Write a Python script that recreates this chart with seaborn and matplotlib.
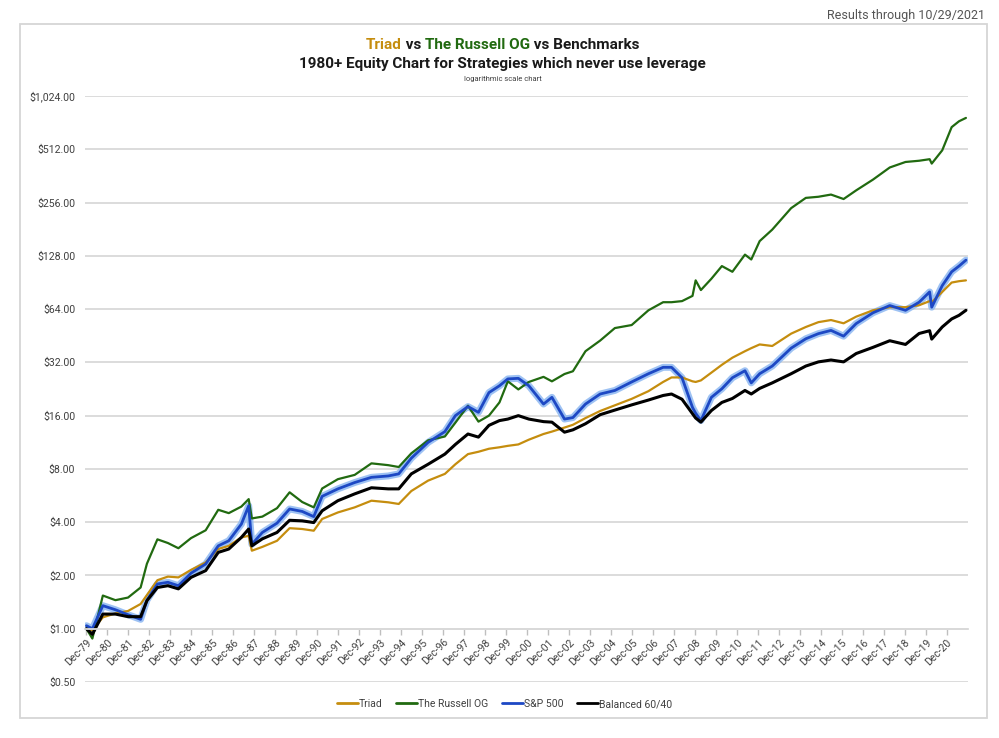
import matplotlib
matplotlib.use("Agg")
import matplotlib.pyplot as plt
import seaborn as sns
import pandas as pd
from matplotlib import font_manager
from matplotlib.offsetbox import TextArea, HPacker, AnnotationBbox
from matplotlib.lines import Line2D
from matplotlib.patches import Rectangle

# ---------------- data ----------------
years = [1979.92, 1980.2, 1980.7, 1981.3, 1981.9, 1982.5, 1982.8, 1983.3, 1983.8, 1984.3,
         1984.9, 1985.6, 1986.2, 1986.7, 1987.3, 1987.65, 1987.8, 1988.3, 1989.0, 1989.6,
         1990.2, 1990.75, 1991.15, 1991.9, 1992.7, 1993.5, 1994.3, 1994.8, 1995.4, 1996.2,
         1997.0, 1997.5, 1998.1, 1998.6, 1999.1, 1999.6, 2000.0, 2000.5, 2001.0, 2001.7,
         2002.1, 2002.7, 2003.1, 2003.7, 2004.4, 2005.1, 2005.9, 2006.7, 2007.4, 2007.8,
         2008.3, 2008.8, 2008.95, 2009.2, 2009.7, 2010.2, 2010.7, 2011.3, 2011.6, 2012.0,
         2012.6, 2013.5, 2014.2, 2014.8, 2015.4, 2016.0, 2016.6, 2017.4, 2018.2, 2018.95,
         2019.6, 2020.1, 2020.2, 2020.7, 2021.15, 2021.5, 2021.83]

triad = [1.0, 0.98, 1.16, 1.22, 1.26, 1.38, 1.55, 1.88, 1.97, 1.95,
         2.15, 2.37, 2.82, 2.94, 3.28, 3.35, 2.76, 2.9, 3.14, 3.7,
         3.66, 3.58, 4.17, 4.54, 4.85, 5.29, 5.18, 5.07, 6.0, 6.87,
         7.5, 8.5, 9.7, 10.0, 10.4, 10.6, 10.8, 11.0, 11.7, 12.6,
         13.0, 13.7, 14.2, 15.5, 17.0, 18.3, 19.9, 22.0, 24.8, 26.3,
         26.3, 25.0, 24.8, 25.3, 28.0, 31.0, 34.0, 37.0, 38.5, 40.4,
         39.6, 46.5, 50.7, 54.0, 55.5, 53.2, 58.0, 63.0, 65.6, 65.6,
         67.3, 71.0, 70.0, 80.0, 90.4, 92.0, 93.0]

russell_og = [1.0, 0.88, 1.54, 1.45, 1.5, 1.71, 2.33, 3.2, 3.05, 2.85,
              3.25, 3.6, 4.7, 4.5, 4.9, 5.4, 4.2, 4.3, 4.8, 5.9,
              5.2, 4.85, 6.2, 7.0, 7.4, 8.6, 8.4, 8.2, 9.8, 11.6,
              12.2, 14.6, 18.2, 14.8, 16.0, 19.0, 25.0, 22.5, 24.8, 26.5,
              25.0, 27.5, 28.5, 37.0, 42.5, 50.0, 52.0, 63.0, 70.0, 70.0,
              71.0, 76.0, 93.0, 82.0, 95.0, 112.0, 104.0, 130.0, 122.0, 155.0,
              180.0, 238.0, 272.0, 276.0, 284.0, 268.0, 300.0, 345.0, 404.0, 434.0,
              441.0, 450.0, 425.0, 505.0, 683.0, 737.0, 770.0]

sp500 = [1.04, 1.0, 1.35, 1.28, 1.2, 1.13, 1.45, 1.79, 1.83, 1.75,
         2.06, 2.32, 2.94, 3.14, 3.9, 4.95, 3.0, 3.5, 3.95, 4.75,
         4.6, 4.3, 5.6, 6.17, 6.7, 7.17, 7.3, 7.5, 9.2, 11.3,
         13.0, 16.0, 18.0, 16.7, 21.6, 23.6, 25.8, 26.0, 23.6, 18.6,
         20.3, 15.3, 15.6, 18.6, 21.2, 22.2, 24.8, 27.6, 30.0, 30.0,
         26.2, 17.8, 16.5, 15.0, 20.3, 22.7, 26.2, 28.7, 24.5, 27.6,
         30.5, 38.5, 43.5, 46.5, 48.5, 45.0, 53.0, 61.0, 67.0, 63.0,
         70.0, 80.0, 65.6, 86.8, 104.0, 112.0, 121.0]

balanced = [1.0, 0.93, 1.21, 1.21, 1.17, 1.17, 1.44, 1.71, 1.75, 1.68,
            1.95, 2.13, 2.7, 2.82, 3.28, 3.66, 2.94, 3.22, 3.5, 4.1,
            4.07, 3.98, 4.64, 5.29, 5.78, 6.26, 6.17, 6.17, 7.5, 8.5,
            9.7, 11.0, 12.6, 12.1, 14.1, 15.0, 15.3, 16.0, 15.3, 14.8,
            14.7, 12.9, 13.3, 14.4, 16.2, 17.2, 18.4, 19.6, 20.8, 21.2,
            19.8, 16.4, 15.5, 14.7, 17.1, 19.0, 20.0, 22.2, 21.2, 22.8,
            24.5, 27.6, 30.5, 32.2, 33.0, 32.2, 35.9, 38.9, 42.4, 40.4,
            46.6, 48.3, 43.3, 50.7, 56.3, 59.0, 63.0]

series_names = ["Triad", "The Russell OG", "S&P 500", "Balanced 60/40"]
tick_years = list(range(1979, 2021))
tick_labels = [f"Dec-{y % 100:02d}" for y in tick_years]
y_ticks = [0.5, 1, 2, 4, 8, 16, 32, 64, 128, 256, 512, 1024]
y_labels = ["$0.50", "$1.00", "$2.00", "$4.00", "$8.00", "$16.00", "$32.00",
            "$64.00", "$128.00", "$256.00", "$512.00", "$1,024.00"]

# ---------------- styling ----------------
GOLD = "#c58d0e"
GREEN = "#216a10"
BLUE = "#1d48c4"
GLOW = "#8db8f2"
BLACK = "#000000"
palette = {"Triad": GOLD, "The Russell OG": GREEN, "S&P 500": BLUE, "Balanced 60/40": BLACK}
widths = {"Triad": 1.6, "The Russell OG": 1.6, "S&P 500": 2.0, "Balanced 60/40": 2.2}

sns.set_theme(style="white")
plt.rcParams["font.family"] = ["Roboto", "DejaVu Sans"]

available = {f.name for f in font_manager.fontManager.ttflist}
title_font = "Liberation Sans Narrow" if "Liberation Sans Narrow" in available else "Roboto"

n = len(years)
for s in (triad, russell_og, sp500, balanced):
    assert len(s) == n

df = pd.DataFrame({
    "year": years * 4,
    "value": triad + russell_og + sp500 + balanced,
    "series": sum([[name] * n for name in series_names], []),
})

fig = plt.figure(figsize=(9.99, 7.38), dpi=100)
ax = fig.add_axes([0.0851, 0.07588, 0.8839, 0.79404])

# glow under the S&P 500 line
sns.lineplot(data=df[df["series"] == "S&P 500"], x="year", y="value", color=GLOW,
             linewidth=5.0, alpha=0.85, ax=ax, legend=False)
for name in series_names:
    sns.lineplot(data=df[df["series"] == name], x="year", y="value", color=palette[name],
                 linewidth=widths[name], ax=ax, legend=False)

ax.set_yscale("log", base=2)
ax.set_ylim(0.5, 1024)
ax.set_xlim(1979.85, 2021.93)

for sp in ("top", "right", "left"):
    ax.spines[sp].set_visible(False)
ax.spines["bottom"].set_position(("data", 1))
ax.spines["bottom"].set_color("#d9d9d9")
ax.spines["bottom"].set_linewidth(1.3)

ax.set_yticks(y_ticks)
ax.set_yticklabels(y_labels)
ax.yaxis.set_minor_locator(matplotlib.ticker.NullLocator())
ax.set_xticks([y + 11 / 12 for y in tick_years])
ax.set_xticklabels(tick_labels)
ax.set_xlabel("")
ax.set_ylabel("")

ax.yaxis.grid(True, color="#d9d9d9", linewidth=1.3)
ax.xaxis.grid(False)
ax.set_axisbelow(True)

ax.tick_params(axis="x", bottom=True, length=4, width=1, color="#bfbfbf",
               labelsize=7.5, labelcolor="#404040", pad=2, labelrotation=45)
ax.tick_params(axis="y", left=False, labelsize=7.6, labelcolor="#404040", pad=1)
for lab in ax.get_xticklabels():
    lab.set_horizontalalignment("right")
    lab.set_rotation_mode("anchor")

# legend
handles = [Line2D([0], [0], color=palette[nm], lw=2) for nm in series_names]
fig.legend(handles, series_names, loc="center", bbox_to_anchor=(0.505, 0.046), ncol=4,
           frameon=False, fontsize=7.5, handlelength=2.0, handletextpad=0.1,
           columnspacing=1.3, labelcolor="#404040")

# title (multi-colour first line)
tp = dict(fontsize=11, fontweight="bold", family=title_font)
parts = [("Triad", GOLD), (" vs ", "#1a1a1a"), ("The Russell OG", GREEN), (" vs Benchmarks", "#1a1a1a")]
packer = HPacker(children=[TextArea(t, textprops=dict(color=c, **tp)) for t, c in parts],
                 sep=0, pad=0, align="baseline")
ab = AnnotationBbox(packer, (0.503, 1 - 45 / 738), xycoords="figure fraction",
                    frameon=False, box_alignment=(0.5, 0.5), pad=0)
fig.add_artist(ab)
fig.text(0.503, 1 - 64 / 738, "1980+ Equity Chart for Strategies which never use leverage",
         ha="center", va="center", color="#1a1a1a", **tp)
fig.text(0.503, 1 - 79 / 738, "logarithmic scale chart", ha="center", va="center",
         fontsize=5.5, color="#404040")
fig.text(0.986, 1 - 15 / 738, "Results through 10/29/2021", ha="right", va="center",
         fontsize=9, color="#555555")

fig.add_artist(Rectangle((0.020, 0.0271), 0.968, 0.9404, transform=fig.transFigure,
                         fill=False, edgecolor="#d6d6d6", linewidth=1.3))

fig.savefig("out.png", dpi=100, facecolor="white")
